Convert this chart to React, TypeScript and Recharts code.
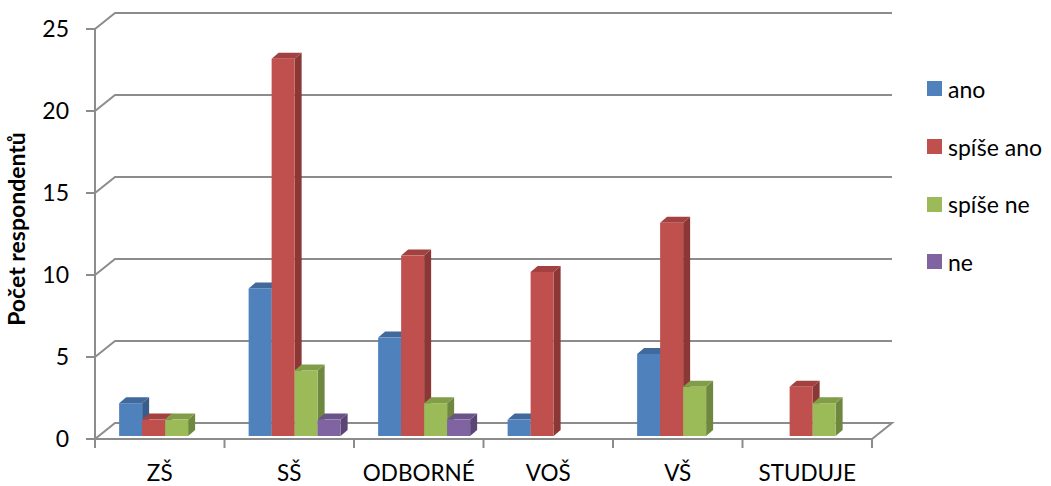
import {
  BarChart,
  Bar,
  XAxis,
  YAxis,
  CartesianGrid,
  Legend,
} from "recharts";

const categories = ["ZŠ", "SŠ", "ODBORNÉ", "VOŠ", "VŠ", "STUDUJE"];
const ano = [2, 9, 6, 1, 5, 0];
const spiseAno = [1, 23, 11, 10, 13, 3];
const spiseNe = [1, 4, 2, 0, 3, 2];
const ne = [0, 1, 1, 0, 0, 0];
const yTicks = [0, 5, 10, 15, 20, 25];

const seriesDefs = [
  { key: "ano", name: "ano", values: ano, front: "#4F81BD", top: "#41699B", side: "#385D8A" },
  { key: "spiseAno", name: "spíše ano", values: spiseAno, front: "#C0504D", top: "#A2413F", side: "#8A3735" },
  { key: "spiseNe", name: "spíše ne", values: spiseNe, front: "#9BBB59", top: "#819D48", side: "#6F883F" },
  { key: "ne", name: "ne", values: ne, front: "#8064A2", top: "#6A5388", side: "#5A4675" },
];

const data = categories.map((name, i) => {
  const row: Record<string, string | number> = { name };
  seriesDefs.forEach((s) => {
    row[s.key] = s.values[i];
  });
  return row;
});

const FONT = "Lato, 'Open Sans', sans-serif";
const GRID = "#8C8C8C";
// 3D offsets: back wall and bar depth
const WALL_DX = 20;
const WALL_DY = -16;
const DEPTH_DX = 7;
const DEPTH_DY = -6;
const SHIFT_X = 6;
const SHIFT_Y = -3;

function makeShape(top: string, side: string) {
  return (props: any) => {
    const { x, y, width, height, fill } = props;
    if (!height || height <= 0) return <g />;
    const fx = x + SHIFT_X;
    const fy = y + SHIFT_Y;
    const w = width;
    const h = height;
    return (
      <g>
        <polygon
          points={`${fx + w},${fy} ${fx + w + DEPTH_DX},${fy + DEPTH_DY} ${fx + w + DEPTH_DX},${fy + h + DEPTH_DY} ${fx + w},${fy + h}`}
          fill={side}
        />
        <polygon
          points={`${fx},${fy} ${fx + DEPTH_DX},${fy + DEPTH_DY} ${fx + w + DEPTH_DX},${fy + DEPTH_DY} ${fx + w},${fy}`}
          fill={top}
        />
        <rect x={fx} y={fy} width={w} height={h} fill={fill} />
      </g>
    );
  };
}

function GridLine(props: any) {
  const { x1, y1, x2, y, height } = props;
  const isFloor = Math.abs(y1 - (y + height)) < 1;
  const pts = [
    `${x1},${y1}`,
    `${x1 + WALL_DX},${y1 + WALL_DY}`,
    `${x2 + WALL_DX},${y1 + WALL_DY}`,
  ];
  if (isFloor) pts.push(`${x2},${y1}`);
  return (
    <polyline
      key={props.key}
      points={pts.join(" ")}
      fill="none"
      stroke={GRID}
      strokeWidth={2}
    />
  );
}

function XTick(props: any) {
  const { x, y, payload, index } = props;
  const half = payload && payload.offset ? payload.offset : 64.75;
  return (
    <g>
      <line x1={x - half} y1={y} x2={x - half} y2={y + 9} stroke={GRID} strokeWidth={2} />
      {index === categories.length - 1 && (
        <line x1={x + half} y1={y} x2={x + half} y2={y + 9} stroke={GRID} strokeWidth={2} />
      )}
      <text
        x={x}
        y={y + 42}
        textAnchor="middle"
        fontFamily={FONT}
        fontSize={22.5}
        fill="#000"
      >
        {payload.value}
      </text>
    </g>
  );
}

// legend keeps the series order (not sorted)
function LegendBox() {
  return (
    <div style={{ fontFamily: FONT, fontSize: 23, color: "#000" }}>
      {seriesDefs.map((s) => (
        <div
          key={s.key}
          style={{ height: 57.7, display: "flex", alignItems: "center" }}
        >
          <span
            style={{
              display: "inline-block",
              width: 15,
              height: 15,
              background: s.front,
              marginRight: 6,
            }}
          />
          <span>{s.name}</span>
        </div>
      ))}
    </div>
  );
}

export default function App() {
  return (
    <div style={{ position: "absolute", left: 0, top: 0, width: 1051, height: 486, background: "#fff" }}>
      <BarChart
        width={1051}
        height={486}
        data={data}
        margin={{ top: 29, right: 179, bottom: 0, left: 35 }}
        barCategoryGap="14%"
        barGap={0}
      >
        <CartesianGrid
          vertical={false}
          horizontal={(p: any) => <GridLine {...p} />}
          stroke={GRID}
        />
        <XAxis
          dataKey="name"
          height={47}
          tickSize={0}
          tickMargin={0}
          axisLine={{ stroke: GRID, strokeWidth: 2 }}
          tick={<XTick />}
          interval={0}
        />
        <YAxis
          width={60}
          domain={[0, 25]}
          ticks={yTicks}
          interval={0}
          tickSize={9}
          tickMargin={17}
          axisLine={{ stroke: GRID, strokeWidth: 2 }}
          tickLine={{ stroke: GRID, strokeWidth: 2 }}
          tick={{ fontFamily: FONT, fontSize: 23, fill: "#000" }}
          label={{
            content: () => (
              <text
                x={19}
                y={229}
                transform="rotate(-90 19 229)"
                textAnchor="middle"
                dominantBaseline="middle"
                fontFamily={FONT}
                fontWeight="bold"
                fontSize={23}
                fill="#000"
              >
                Počet respondentů
              </text>
            ),
          }}
        />
        <Legend
          layout="horizontal"
          verticalAlign="middle"
          align="center"
          wrapperStyle={{ left: 927, top: 60, width: 124 }}
          content={<LegendBox />}
        />
        {seriesDefs.map((s) => (
          <Bar
            key={s.key}
            dataKey={s.key}
            name={s.name}
            fill={s.front}
            isAnimationActive={false}
            shape={makeShape(s.top, s.side)}
          />
        ))}
      </BarChart>
    </div>
  );
}
